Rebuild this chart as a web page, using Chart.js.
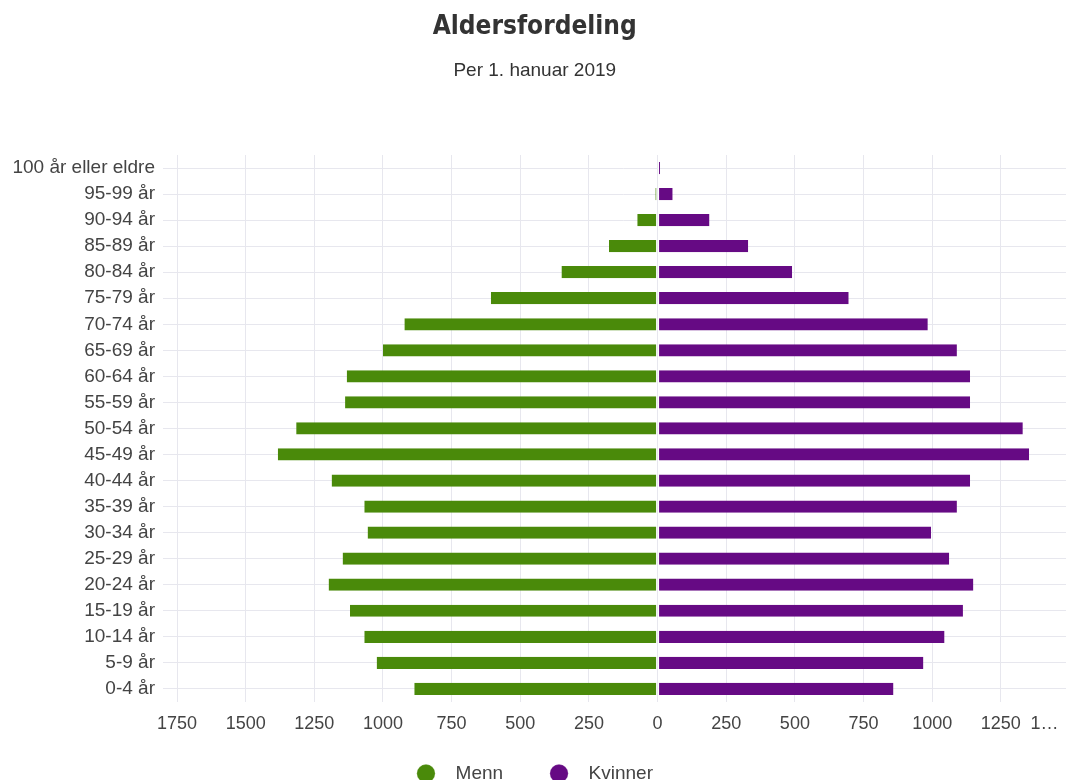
<!DOCTYPE html>
<html lang="no">
<head>
<meta charset="utf-8">
<title>Aldersfordeling</title>
<script src="https://cdn.jsdelivr.net/npm/chart.js@4.4.1/dist/chart.umd.min.js"></script>
<style>
  html, body { margin: 0; padding: 0; background: #fff; width: 1066px; height: 780px; overflow: hidden; }
  #wrap { position: absolute; left: 0; top: 0; width: 1076px; height: 793px; }
</style>
</head>
<body>
<div id="wrap"><canvas id="pyramid" width="1076" height="793"></canvas></div>
<script>
// Aldersgrupper, eldste øverst
const ageGroups = [
  '100 år eller eldre', '95-99 år', '90-94 år', '85-89 år', '80-84 år',
  '75-79 år', '70-74 år', '65-69 år', '60-64 år', '55-59 år',
  '50-54 år', '45-49 år', '40-44 år', '35-39 år', '30-34 år',
  '25-29 år', '20-24 år', '15-19 år', '10-14 år', '5-9 år', '0-4 år'
];

// Antall personer per aldersgruppe
const menn = [2, 8, 74, 177, 350, 607, 922, 1000, 1132, 1138, 1316, 1383, 1187, 1068, 1056, 1147, 1198, 1120, 1068, 1023, 886];
const kvinner = [9, 55, 189, 330, 490, 696, 984, 1090, 1138, 1138, 1330, 1353, 1138, 1090, 996, 1062, 1150, 1112, 1045, 968, 859];

// Verdiakse
const xMin = -1750;
const xMax = 1500;
const xStep = 250;

const GREEN = '#4a8a0a';
const PURPLE = '#660a84';
const GRID = '#e7e7ee';
const TEXT = '#444';
const FONT = "'Liberation Sans', Arial, sans-serif";

new Chart(document.getElementById('pyramid'), {
  type: 'bar',
  data: {
    labels: ageGroups,
    datasets: [
      {
        label: 'Menn',
        data: menn.map(v => -v),
        backgroundColor: GREEN,
        borderColor: '#fff',
        borderWidth: { top: 0, bottom: 0, left: 0, right: 1 },
        borderSkipped: false,
        pointStyle: 'circle'
      },
      {
        label: 'Kvinner',
        data: kvinner,
        backgroundColor: PURPLE,
        borderColor: '#fff',
        borderWidth: { top: 0, bottom: 0, left: 1, right: 0 },
        borderSkipped: false,
        pointStyle: 'circle'
      }
    ]
  },
  options: {
    indexAxis: 'y',
    responsive: false,
    animation: false,
    devicePixelRatio: 1,
    layout: { padding: { left: 0, right: 6.5, top: 0, bottom: 0 } },
    datasets: { bar: { categoryPercentage: 1, barPercentage: 0.47 } },
    scales: {
      x: {
        stacked: true,
        min: xMin,
        max: xMax,
        border: { display: false },
        grid: { color: GRID, drawTicks: false },
        ticks: {
          stepSize: xStep,
          padding: 11,
          color: TEXT,
          font: { family: FONT, size: 18 },
          maxRotation: 0,
          autoSkip: false,
          // siste etikett kortes ned i kanten av diagrammet
          callback: v => v === xMax ? '1…' + ' '.repeat(10) : String(Math.abs(v))
        },
        afterFit: s => { s.paddingRight = 0; s.height += 9; }
      },
      y: {
        stacked: true,
        border: { display: false },
        grid: { color: GRID, offset: false, tickLength: 14 },
        ticks: {
          padding: 8,
          color: TEXT,
          font: { family: FONT, size: 19 },
          autoSkip: false
        },
        afterFit: s => { s.width = 177; }
      }
    },
    plugins: {
      title: {
        display: true,
        text: 'Aldersfordeling',
        color: '#333',
        font: { family: "'DejaVu Sans Condensed', 'Liberation Sans', sans-serif", size: 26, weight: 'bold' },
        padding: { top: 12, bottom: 10 }
      },
      subtitle: {
        display: true,
        text: 'Per 1. hanuar 2019',
        color: '#333',
        font: { family: FONT, size: 19 },
        padding: { top: 6, bottom: 73 }
      },
      legend: {
        position: 'bottom',
        labels: {
          usePointStyle: true,
          boxHeight: 13,
          padding: 9.5,
          color: TEXT,
          font: { family: FONT, size: 19 },
          generateLabels: chart => {
            const items = Chart.defaults.plugins.legend.labels.generateLabels(chart);
            return items.map((item, i) => {
              item.text = '  ' + item.text + (i < items.length - 1 ? ' '.repeat(7) : '');
              return item;
            });
          }
        }
      },
      tooltip: { enabled: false }
    }
  }
});
</script>
</body>
</html>
